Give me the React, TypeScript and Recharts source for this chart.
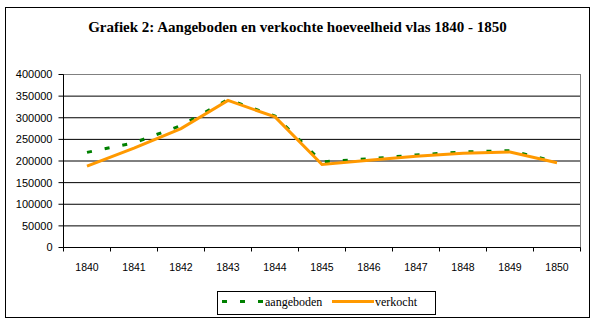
import { LineChart, Line, XAxis, YAxis, CartesianGrid, ReferenceLine } from "recharts"

const years = [1840, 1841, 1842, 1843, 1844, 1845, 1846, 1847, 1848, 1849, 1850]
const aangeboden = [220000, 242000, 282000, 342000, 304000, 198000, 205000, 214000, 221000, 224000, 198000]
const verkocht = [188000, 230000, 275000, 340000, 302000, 192000, 202000, 211000, 218000, 221000, 196000]
const yTicks = [0, 50000, 100000, 150000, 200000, 250000, 300000, 350000, 400000]

const data = years.map((year, i) => ({
  idx: i,
  year,
  aangeboden: aangeboden[i],
  verkocht: verkocht[i],
}))

// category centres get a label, category boundaries get a tick mark
const xTicks = years.flatMap((_, i) => [i - 0.5, i]).concat(years.length - 0.5)

const serif = "'Liberation Serif', 'DejaVu Serif', serif"
const sans = "'Liberation Sans', Arial, sans-serif"

function YearTick({ x, y, payload }: any) {
  const v = payload.value
  if (!Number.isInteger(v)) {
    return <line x1={x} x2={x} y1={y} y2={y + 4} stroke="#000" />
  }
  return (
    <text x={x} y={y + 23} textAnchor="middle" fontSize={10.5} fontFamily={sans} fill="#000">
      {years[v]}
    </text>
  )
}

function LegendBox() {
  return (
    <div
      style={{
        position: "absolute", left: 217, top: 291, width: 219, height: 24,
        boxSizing: "border-box", border: "1px solid #000", background: "#fff",
      }}
    >
      <svg width={217} height={22} style={{ position: "absolute", left: 0, top: 0 }}>
        <line x1={4} x2={45} y1={9.5} y2={9.5} stroke="#008000" strokeWidth={3} strokeDasharray="5 13" />
        <text x={47} y={14} fontSize={12} fontFamily={serif} fill="#000">aangeboden</text>
        <line x1={114} x2={156} y1={9.5} y2={9.5} stroke="#FF9900" strokeWidth={3} />
        <text x={157} y={14} fontSize={12} fontFamily={serif} fill="#000">verkocht</text>
      </svg>
    </div>
  )
}

export default function App() {
  return (
    <div style={{ position: "absolute", left: 0, top: 0, width: 598, height: 324, background: "#fff" }}>
      <div
        style={{
          position: "absolute", left: 5, top: 7, width: 585, height: 311,
          boxSizing: "border-box", border: "1px solid #000",
        }}
      />
      <div
        style={{
          position: "absolute", left: 5, top: 19, width: 585, textAlign: "center",
          fontFamily: serif, fontWeight: "bold", fontSize: 15, lineHeight: "16px", color: "#000",
        }}
      >
        Grafiek 2: Aangeboden en verkochte hoeveelheid vlas 1840 - 1850
      </div>
      <div style={{ position: "absolute", left: 0, top: 0 }}>
        <LineChart
          width={598}
          height={324}
          data={data}
          margin={{ top: 74.5, right: 17.5, bottom: 46.5, left: 5.5 }}
        >
          <CartesianGrid vertical={false} stroke="#000" />
          <XAxis
            dataKey="idx"
            type="number"
            domain={[-0.5, years.length - 0.5]}
            ticks={xTicks}
            interval={0}
            height={30}
            tickLine={false}
            tickSize={0}
            tickMargin={0}
            axisLine={{ stroke: "#000" }}
            tick={<YearTick />}
          />
          <YAxis
            type="number"
            domain={[0, 400000]}
            ticks={yTicks}
            interval={0}
            width={58}
            tickSize={5}
            tickMargin={6}
            axisLine={{ stroke: "#000" }}
            tickLine={{ stroke: "#000" }}
            tick={{ fontSize: 11, fontFamily: sans, fill: "#000" }}
          />
          <ReferenceLine y={400000} stroke="#808080" />
          <ReferenceLine x={years.length - 0.5} stroke="#808080" />
          <Line
            dataKey="aangeboden"
            stroke="#008000"
            strokeWidth={3}
            strokeDasharray="5 13"
            dot={false}
            isAnimationActive={false}
          />
          <Line
            dataKey="verkocht"
            stroke="#FF9900"
            strokeWidth={3}
            dot={false}
            isAnimationActive={false}
          />
        </LineChart>
      </div>
      <LegendBox />
    </div>
  )
}
